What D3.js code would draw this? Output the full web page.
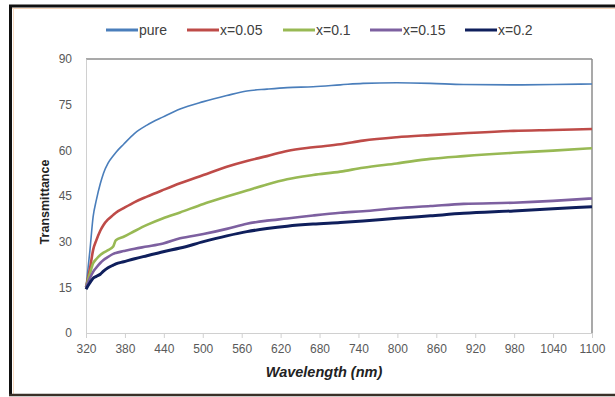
<!DOCTYPE html>
<html><head><meta charset="utf-8">
<script src="https://cdn.jsdelivr.net/npm/d3@7/dist/d3.min.js"></script>
<style>html,body{margin:0;padding:0;background:#fff}svg{display:block}</style>
</head><body>
<script>
const seriesNames = ["pure", "x=0.05", "x=0.1", "x=0.15", "x=0.2"];
const seriesColors = ["#4a7ebb", "#be4b48", "#98b954", "#7d60a0", "#0f1f5c"];
const seriesWidths = [1.6, 2.6, 2.6, 2.6, 3];
const wavelengths = [320, 326, 331, 336, 342, 347, 354, 362, 366, 378, 395, 414, 439, 465, 501, 537, 568, 599, 630, 670, 712, 747, 799, 851, 902, 979, 1040, 1100];
const pure  = [15, 27, 38.2, 43.7, 49, 52.5, 55.8, 58.2, 59.3, 62, 65.6, 68.3, 71, 73.6, 76, 78, 79.5, 80.1, 80.6, 80.9, 81.5, 82, 82.2, 82, 81.6, 81.5, 81.6, 81.8];
const x005  = [15, 21, 27.3, 30.5, 33.6, 35.5, 37.3, 38.8, 39.5, 41, 43, 44.8, 47, 49.2, 51.9, 54.6, 56.5, 58.1, 59.8, 61, 62, 63.2, 64.3, 65, 65.6, 66.4, 66.7, 67];
const x01   = [15, 19.5, 22.9, 24.3, 25.6, 26.4, 27.2, 28.4, 30.5, 31.6, 33.5, 35.5, 37.7, 39.6, 42.4, 44.8, 46.8, 48.8, 50.5, 51.9, 53, 54.3, 55.7, 57.2, 58.1, 59.2, 59.9, 60.7];
const x015  = [15, 18, 20.1, 21.5, 23, 24, 25, 26, 26.3, 26.9, 27.7, 28.4, 29.4, 31.1, 32.5, 34.2, 35.9, 36.9, 37.6, 38.6, 39.5, 40, 41, 41.7, 42.4, 42.8, 43.4, 44.2];
const x02   = [14.4, 16.5, 18, 18.6, 19.3, 20.3, 21.4, 22.3, 22.7, 23.4, 24.4, 25.4, 26.7, 27.9, 30, 31.9, 33.3, 34.3, 35.1, 35.8, 36.3, 36.8, 37.7, 38.5, 39.3, 40.1, 40.8, 41.5];
const seriesValues = [pure, x005, x01, x015, x02];
const xTicks = [320, 380, 440, 500, 560, 620, 680, 740, 800, 860, 920, 980, 1040, 1100];
const yTicks = [0, 15, 30, 45, 60, 75, 90];
const xTitle = "Wavelength (nm)";
const yTitle = "Transmittance";

const W = 615, H = 397;
const svg = d3.select("body").append("svg").attr("width", W).attr("height", H);
const font = "'Liberation Sans', Arial, sans-serif";

// outer frame
svg.append("line").attr("x1", 12).attr("x2", W).attr("y1", 8.5).attr("y2", 8.5).attr("stroke", "#f6d2b4").attr("stroke-width", 1);
svg.append("line").attr("x1", 13.5).attr("x2", 13.5).attr("y1", 8).attr("y2", 394).attr("stroke", "#f8dcc4").attr("stroke-width", 1);
svg.append("line").attr("x1", 10.5).attr("x2", 10.5).attr("y1", 5).attr("y2", 396).attr("stroke", "#111").attr("stroke-width", 3);
svg.append("line").attr("x1", 9).attr("x2", W).attr("y1", 6).attr("y2", 6).attr("stroke", "#111").attr("stroke-width", 3);
svg.append("line").attr("x1", 9).attr("x2", W).attr("y1", 395).attr("y2", 395).attr("stroke", "#3a3028").attr("stroke-width", 2.5);

const x = d3.scaleLinear().domain([320, 1100]).range([86, 592]);
const y = d3.scaleLinear().domain([0, 90]).range([333, 59]);

// plot area border (top/right darker)
svg.append("line").attr("x1", x(320)).attr("x2", x(1100)).attr("y1", y(90)).attr("y2", y(90)).attr("stroke", "#8c8c8c").attr("stroke-width", 1.5);
svg.append("line").attr("x1", x(1100)).attr("x2", x(1100)).attr("y1", y(90)).attr("y2", y(0)).attr("stroke", "#8c8c8c").attr("stroke-width", 1.5);

// axes
const xAxis = svg.append("g").attr("transform", `translate(0,${y(0)})`)
  .call(d3.axisBottom(x).tickValues(xTicks).tickSize(5).tickPadding(6).tickFormat(d3.format("d")));
xAxis.select(".domain").attr("stroke", "#d0d0d0");
xAxis.selectAll(".tick line").attr("stroke", "#d0d0d0");
xAxis.selectAll("text").attr("fill", "#595959").style("font-family", font).style("font-size", "12px");

const yAxis = svg.append("g").attr("transform", `translate(${x(320)},0)`)
  .call(d3.axisLeft(y).tickValues(yTicks).tickSize(0).tickPadding(14));
yAxis.select(".domain").attr("stroke", "#d0d0d0");
yAxis.selectAll("text").attr("fill", "#595959").style("font-family", font).style("font-size", "12px");

// lines
const line = d3.line().x(d => x(d[0])).y(d => y(d[1])).curve(d3.curveMonotoneX);
seriesValues.forEach((vals, i) => {
  const pts = wavelengths.map((w, j) => [w, vals[j]]);
  svg.append("path").datum(pts).attr("d", line).attr("fill", "none")
    .attr("stroke", seriesColors[i]).attr("stroke-width", seriesWidths[i]).attr("stroke-linejoin", "round");
});

// titles
svg.append("text").attr("x", 324).attr("y", 377).attr("text-anchor", "middle")
  .style("font-family", font).style("font-size", "14.5px").style("font-weight", "bold").style("font-style", "italic")
  .attr("fill", "#222").text(xTitle);
svg.append("text").attr("transform", "translate(49,202) rotate(-90)").attr("text-anchor", "middle")
  .style("font-family", font).style("font-size", "12.5px").style("font-weight", "bold")
  .attr("fill", "#222").text(yTitle);

// legend
const legendX = [106, 187, 283, 370, 465];
const lg = svg.append("g");
seriesNames.forEach((n, i) => {
  lg.append("line").attr("x1", legendX[i]).attr("x2", legendX[i] + 32).attr("y1", 30).attr("y2", 30)
    .attr("stroke", seriesColors[i]).attr("stroke-width", 3);
  lg.append("text").attr("x", legendX[i] + 33).attr("y", 35).style("font-family", font).style("font-size", "14px")
    .attr("fill", "#404040").text(n);
});
</script>
</body></html>
